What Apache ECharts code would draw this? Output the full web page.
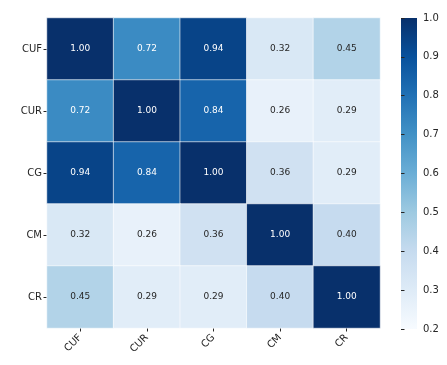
<!DOCTYPE html>
<html>
<head>
<meta charset="utf-8">
<script src="https://cdn.jsdelivr.net/npm/echarts@6/dist/echarts.min.js"></script>
<style>html,body{margin:0;padding:0;background:#fff}#c{width:447px;height:365px}</style>
</head>
<body>
<div id="c"></div>
<script>
const categories = ['CUF', 'CUR', 'CG', 'CM', 'CR'];
const rowCUF = [1.00, 0.72, 0.94, 0.32, 0.45];
const rowCUR = [0.72, 1.00, 0.84, 0.26, 0.29];
const rowCG  = [0.94, 0.84, 1.00, 0.36, 0.29];
const rowCM  = [0.32, 0.26, 0.36, 1.00, 0.40];
const rowCR  = [0.45, 0.29, 0.29, 0.40, 1.00];
const colorMin = 0.2;
const colorMax = 1.0;
const colorTicks = [0.2, 0.3, 0.4, 0.5, 0.6, 0.7, 0.8, 0.9, 1.0];

const rows = [rowCUF, rowCUR, rowCG, rowCM, rowCR];
const blues = ['#f7fbff','#deebf7','#c6dbef','#9ecae1','#6baed6','#4292c6','#2171b5','#08519c','#08306b'];
const data = [];
rows.forEach((r, yi) => r.forEach((v, xi) => {
  data.push({ value: [xi, yi, v], label: { color: v > 0.6 ? '#ffffff' : '#262626' } });
}));
const barGradient = new echarts.graphic.LinearGradient(0, 1, 0, 0,
  blues.map((c, i) => ({ offset: i / (blues.length - 1), color: c })));

const font = 'DejaVu Sans';
const chart = echarts.init(document.getElementById('c'));
chart.setOption({
  animation: false,
  textStyle: { fontFamily: font },
  grid: [
    { left: 47, right: 67, top: 18, bottom: 37 },
    { left: 401, width: 16, top: 18, bottom: 36, show: true, backgroundColor: barGradient, borderWidth: 0 }
  ],
  xAxis: [
    { type: 'category', data: categories, gridIndex: 0,
      axisLine: { show: false }, splitArea: { show: false },
      axisTick: { show: true, alignWithLabel: true, length: 3.5, lineStyle: { color: '#262626' } },
      axisLabel: { rotate: 45, fontSize: 10, color: '#262626', margin: 8, fontFamily: font } },
    { type: 'value', gridIndex: 1, show: false, min: 0, max: 1 }
  ],
  yAxis: [
    { type: 'category', data: categories, gridIndex: 0, inverse: true,
      axisLine: { show: false },
      axisTick: { show: true, alignWithLabel: true, length: 3.5, lineStyle: { color: '#262626' } },
      axisLabel: { fontSize: 10, color: '#262626', margin: 5, fontFamily: font } },
    { type: 'value', gridIndex: 1, position: 'right', min: colorMin, max: colorMax, interval: 0.1,
      axisLine: { show: false }, splitLine: { show: false },
      axisTick: { show: true, length: 3.5, lineStyle: { color: '#262626' } },
      axisLabel: { fontSize: 10, color: '#262626', margin: 6, fontFamily: font,
        formatter: v => (Math.round(v * 10) / 10).toFixed(1) } }
  ],
  visualMap: {
    type: 'continuous', seriesIndex: 0, min: colorMin, max: colorMax,
    show: false, inRange: { color: blues }
  },
  series: [
    { type: 'heatmap', xAxisIndex: 0, yAxisIndex: 0, data: data,
      itemStyle: { borderColor: '#ffffff', borderWidth: 0.6 },
      label: { show: true, fontSize: 9, fontFamily: font, formatter: p => p.value[2].toFixed(2) },
      emphasis: { disabled: true } },
    { type: 'scatter', xAxisIndex: 1, yAxisIndex: 1, data: [], silent: true }
  ]
});
</script>
</body>
</html>
